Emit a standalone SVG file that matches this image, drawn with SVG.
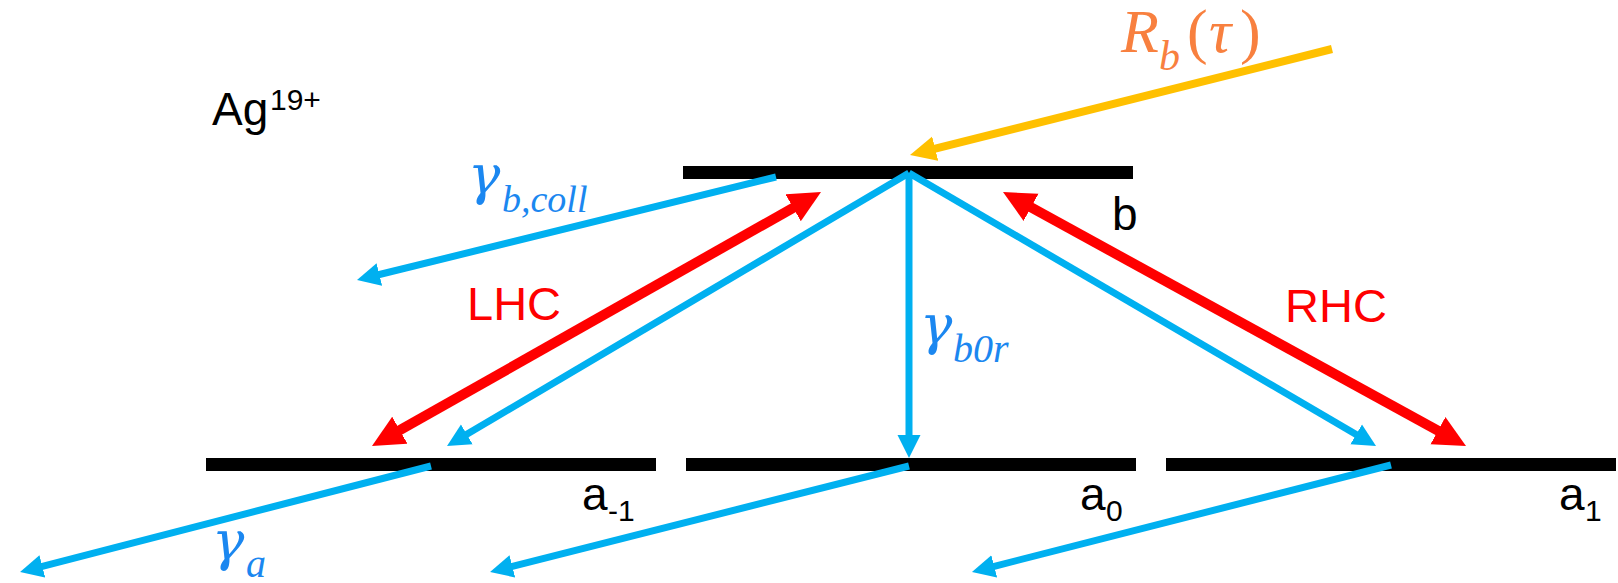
<svg xmlns="http://www.w3.org/2000/svg" width="1618" height="583" viewBox="0 0 1618 583">
<style>
.bar{fill:#000}
.lbl{font-family:"Liberation Sans",Arial,sans-serif;font-size:46px;fill:#000}
.sub{font-size:30px}
.hc{font-family:"Liberation Sans",Arial,sans-serif;font-size:47px;fill:#FF0000}
.math{font-family:"Liberation Serif","Times New Roman",serif;font-style:italic;fill:#1b87f0;font-size:40px}
.g{font-family:"DejaVu Serif",serif;font-size:54px}
.rate{font-family:"Liberation Serif","Times New Roman",serif;fill:#F8803F;font-size:62px}
.c{fill:none;stroke:#00B0F0;stroke-width:7}
.r{fill:none;stroke:#FF0000;stroke-width:10}
.y{fill:none;stroke:#FFC000;stroke-width:8}
</style>
<defs>
<marker id="hb" markerUnits="userSpaceOnUse" markerWidth="24" markerHeight="24" viewBox="0 -12 24 24" refX="2" refY="0" orient="auto"><path d="M0,-11.5 L23,0 L0,11.5z" fill="#00B0F0"/></marker>
<marker id="hr" markerUnits="userSpaceOnUse" markerWidth="32" markerHeight="32" viewBox="0 -16 32 32" refX="2" refY="0" orient="auto-start-reverse"><path d="M0,-15.5 L32,0 L0,15.5z" fill="#FF0000"/></marker>
<marker id="hy" markerUnits="userSpaceOnUse" markerWidth="26" markerHeight="26" viewBox="0 -13 26 26" refX="2" refY="0" orient="auto"><path d="M0,-12.5 L26,0 L0,12.5z" fill="#FFC000"/></marker>
</defs>
<rect width="1618" height="583" fill="#fff"/>

<text id="ion" class="lbl" x="212" y="125">Ag<tspan class="sub" x="270" y="110">19+</tspan></text>

<g id="level-b">
<rect class="bar" x="683" y="166" width="450" height="13"/>
<text class="lbl" x="1112" y="230">b</text>
</g>
<g id="level-a-1">
<rect class="bar" x="206" y="458" width="450" height="13"/>
<text class="lbl" x="582" y="510">a<tspan class="sub" x="608" y="521">-1</tspan></text>
</g>
<g id="level-a0">
<rect class="bar" x="686" y="458" width="450" height="13"/>
<text class="lbl" x="1080" y="510">a<tspan class="sub" x="1106" y="521">0</tspan></text>
</g>
<g id="level-a1">
<rect class="bar" x="1166" y="458" width="450" height="13"/>
<text class="lbl" x="1559" y="510">a<tspan class="sub" x="1585" y="521">1</tspan></text>
</g>

<g id="connectors">
<line class="y" x1="1332" y1="49" x2="933.3" y2="149.2" marker-end="url(#hy)"/>
<line class="c" x1="776" y1="177" x2="377.4" y2="275" marker-end="url(#hb)"/>
<line class="r" x1="398.1" y1="431.2" x2="794.9" y2="206.8" marker-start="url(#hr)" marker-end="url(#hr)"/>
<line class="r" x1="1029.3" y1="206.4" x2="1439.7" y2="431.6" marker-start="url(#hr)" marker-end="url(#hr)"/>
<line class="c" x1="909" y1="173" x2="465.1" y2="435.3" marker-end="url(#hb)"/>
<line class="c" x1="909" y1="173" x2="909" y2="437" marker-end="url(#hb)"/>
<line class="c" x1="909" y1="173" x2="1357.9" y2="435.4" marker-end="url(#hb)"/>
<line class="c" x1="431" y1="466" x2="40.4" y2="566.8" marker-end="url(#hb)"/>
<line class="c" x1="909" y1="466" x2="510.4" y2="566.8" marker-end="url(#hb)"/>
<line class="c" x1="1391" y1="465" x2="992.3" y2="566.8" marker-end="url(#hb)"/>
</g>

<text class="hc" x="467" y="320">LHC</text>
<text class="hc" x="1285" y="322">RHC</text>

<text class="math"><tspan class="g" x="468" y="194">γ</tspan><tspan x="502" y="212" font-size="38">b,coll</tspan></text>
<text class="math"><tspan class="g" x="920" y="344">γ</tspan><tspan x="953" y="362">b0r</tspan></text>
<text class="math"><tspan class="g" x="212" y="560">γ</tspan><tspan x="246" y="577">a</tspan></text>

<text class="rate" x="1121" y="52"><tspan font-style="italic">R</tspan><tspan x="1159" y="70" font-size="42" font-style="italic">b</tspan><tspan x="1187" y="52">(</tspan><tspan x="1209" font-style="italic">τ</tspan><tspan x="1240">)</tspan></text>
</svg>
